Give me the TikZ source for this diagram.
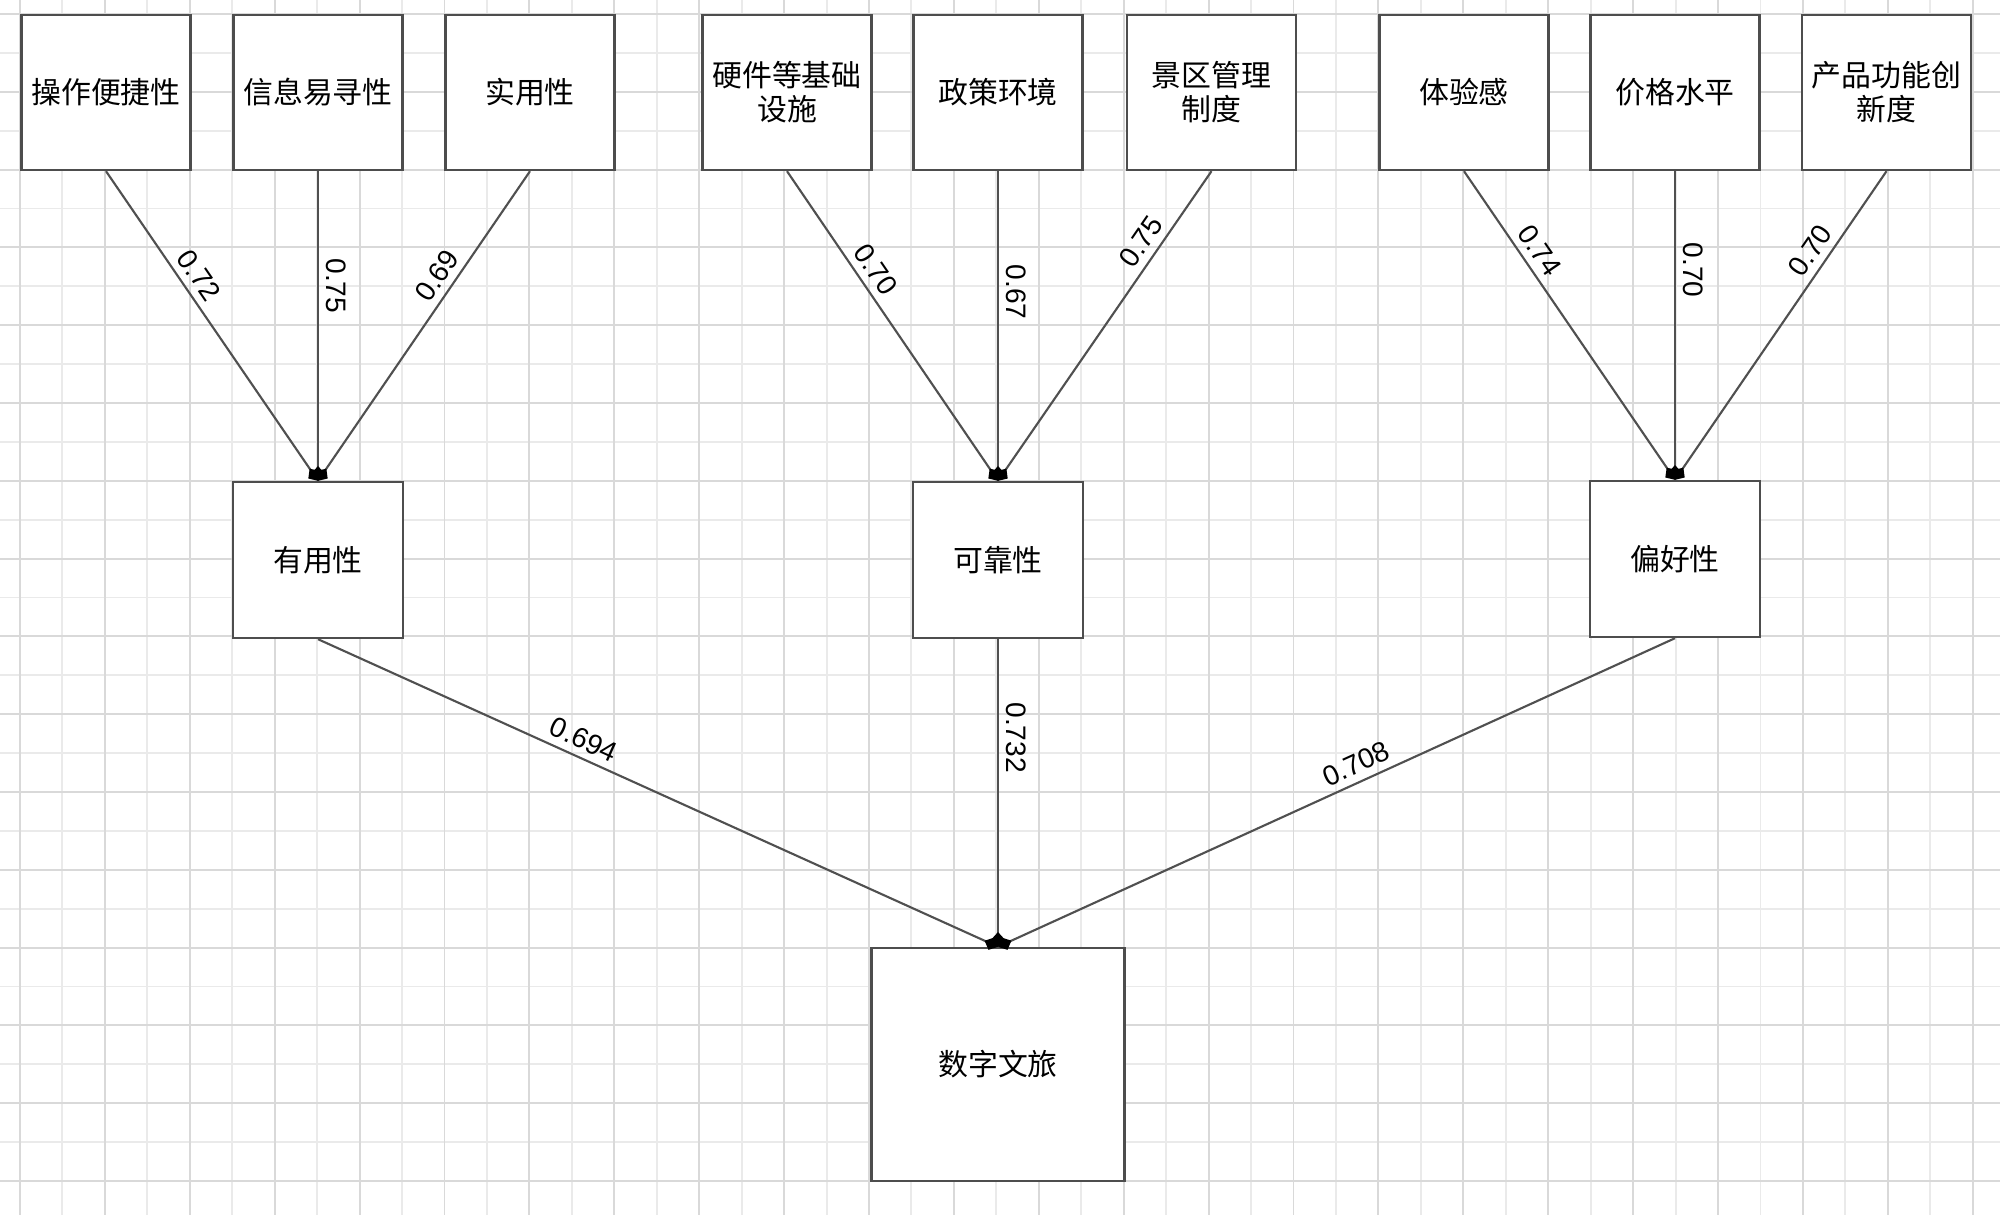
\documentclass[tikz,border=0pt]{standalone}
\usepackage{fontspec}
\setmainfont{Liberation Sans}
\newfontfamily\cjk{Noto Sans CJK SC}
\usetikzlibrary{arrows.meta}
\definecolor{boxline}{HTML}{4D4D4D}
\definecolor{connline}{HTML}{505050}
\definecolor{gridminor}{HTML}{EAEAEA}
\definecolor{gridmajor}{HTML}{D9D9D9}

\begin{document}
\begin{tikzpicture}[x=0.01cm,y=-0.01cm,
  box/.style={draw=boxline,line width=0.65pt,fill=white,inner sep=0pt,align=center,
    font=\cjk\fontsize{8.5pt}{9.7pt}\selectfont},
  topbox/.style={box,minimum width=1.69cm,minimum height=1.55cm},
  midbox/.style={box,minimum width=1.70cm,minimum height=1.56cm},
  conn/.style={draw=connline,line width=0.6pt,-{Diamond[length=4.2pt,width=3.8pt,color=black]}},
  wt/.style={sloped,above,inner sep=2pt,font=\fontsize{8pt}{8pt}\selectfont}]
\useasboundingbox (0,0) rectangle (2000,1221);
\fill[white] (0,0) rectangle (2000,1221);
\foreach \k in {0,...,46} \draw[gridminor,line width=0.55pt] ({20+42.45*\k},0) -- ({20+42.45*\k},1215);
\foreach \k in {0,...,30} \draw[gridminor,line width=0.55pt] (0,{14+38.9*\k}) -- (2000,{14+38.9*\k});
\foreach \k in {0,2,...,46} \draw[gridmajor,line width=0.55pt] ({20+42.45*\k},0) -- ({20+42.45*\k},1215);
\foreach \k in {0,2,...,30} \draw[gridmajor,line width=0.55pt] (0,{14+38.9*\k}) -- (2000,{14+38.9*\k});

\node[topbox] (caozuo) at (106,92.5) {操作便捷性};
\node[topbox] (xinxi) at (318,92.5) {信息易寻性};
\node[topbox] (shiyong) at (530,92.5) {实用性};
\node[topbox] (yingjian) at (787,92.5) {硬件等基础\\设施};
\node[topbox] (zhengce) at (998,92.5) {政策环境};
\node[topbox] (jingqu) at (1211.5,92.5) {景区管理\\制度};
\node[topbox] (tiyan) at (1464,92.5) {体验感};
\node[topbox] (jiage) at (1675,92.5) {价格水平};
\node[topbox] (chuangxin) at (1886.5,92.5) {产品功能创\\新度};

\node[midbox] (youyong) at (318,560) {有用性};
\node[midbox] (kekao) at (998,560) {可靠性};
\node[midbox] (pianhao) at (1675,559) {偏好性};

\node[box,minimum width=2.53cm,minimum height=2.33cm] (shuzi) at (998,1064.5) {数字文旅};

\draw[conn] (caozuo.south) -- node[wt,pos=0.37] {0.72} (youyong.north);
\draw[conn] (xinxi.south) -- node[wt,pos=0.37] {0.75} (youyong.north);
\draw[conn] (shiyong.south) -- node[wt,pos=0.37] {0.69} (youyong.north);
\draw[conn] (yingjian.south) -- node[wt,pos=0.35] {0.70} (kekao.north);
\draw[conn] (zhengce.south) -- node[wt,pos=0.39] {0.67} (kekao.north);
\draw[conn] (jingqu.south) -- node[wt,pos=0.26] {0.75} (kekao.north);
\draw[conn] (tiyan.south) -- node[wt,pos=0.29] {0.74} (pianhao.north);
\draw[conn] (jiage.south) -- node[wt,pos=0.32] {0.70} (pianhao.north);
\draw[conn] (chuangxin.south) -- node[wt,pos=0.29] {0.70} (pianhao.north);

\draw[conn] (youyong.south) -- node[wt,pos=0.38] {0.694} (shuzi.north);
\draw[conn] (kekao.south) -- node[wt,pos=0.32] {0.732} (shuzi.north);
\draw[conn] (pianhao.south) -- node[wt,pos=0.46] {0.708} (shuzi.north);
\end{tikzpicture}
\end{document}
